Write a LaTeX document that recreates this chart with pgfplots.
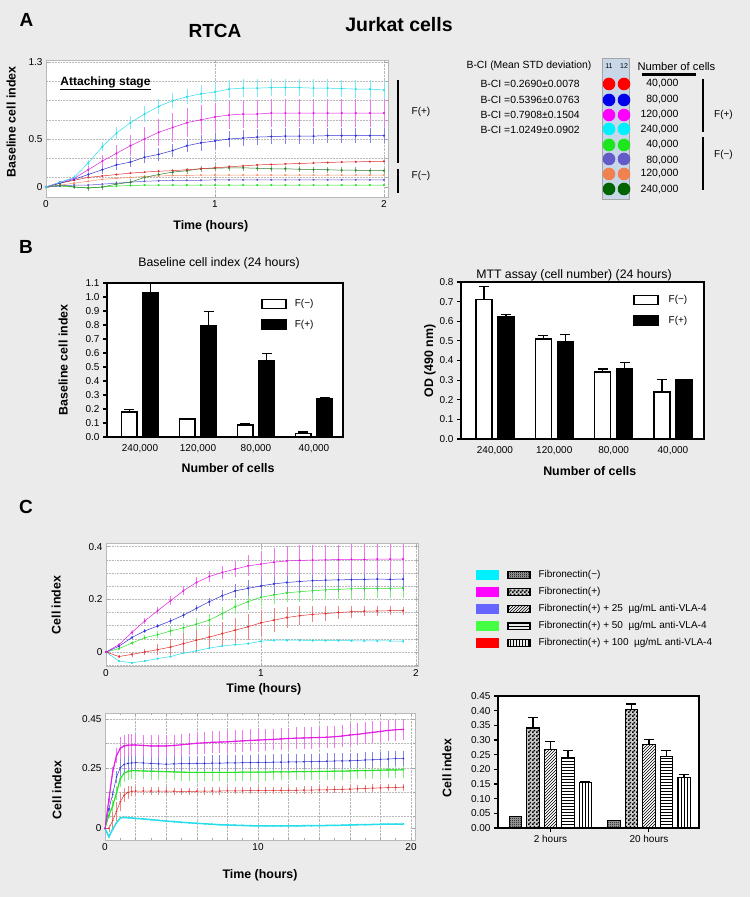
\documentclass[border=0pt]{standalone}
\usepackage{fontspec}
\setmainfont{Liberation Sans}
\usepackage{pgfplots}
\pgfplotsset{compat=1.18}
\usepackage{pgfplotstable}
\usetikzlibrary{patterns}

\pgfdeclarepatternformonly{finecheck}{\pgfqpoint{0pt}{0pt}}{\pgfqpoint{4pt}{4pt}}{\pgfqpoint{4pt}{4pt}}{
  \pgfpathrectangle{\pgfqpoint{0pt}{0pt}}{\pgfqpoint{2pt}{2pt}}
  \pgfpathrectangle{\pgfqpoint{2pt}{2pt}}{\pgfqpoint{2pt}{2pt}}
  \pgfusepath{fill}}
\pgfdeclarepatternformonly{tinycheck}{\pgfqpoint{0pt}{0pt}}{\pgfqpoint{2pt}{2pt}}{\pgfqpoint{2pt}{2pt}}{
  \pgfpathrectangle{\pgfqpoint{0pt}{0pt}}{\pgfqpoint{1pt}{1pt}}
  \pgfpathrectangle{\pgfqpoint{1pt}{1pt}}{\pgfqpoint{1pt}{1pt}}
  \pgfusepath{fill}}

\definecolor{bg}{RGB}{235,235,235}
\definecolor{cyL}{RGB}{40,222,235}
\definecolor{mgL}{RGB}{228,30,228}
\definecolor{blL}{RGB}{50,50,215}
\definecolor{rdL}{RGB}{225,50,50}
\definecolor{dgL}{RGB}{45,130,45}
\definecolor{orL}{RGB}{245,150,110}
\definecolor{sbL}{RGB}{100,90,210}
\definecolor{grL}{RGB}{40,225,40}
\definecolor{pCy}{RGB}{0,240,255}
\definecolor{pMg}{RGB}{255,0,255}
\definecolor{pBl}{RGB}{0,0,235}
\definecolor{pRd}{RGB}{255,0,0}
\definecolor{pGr}{RGB}{30,230,30}
\definecolor{pSb}{RGB}{100,90,200}
\definecolor{pOr}{RGB}{240,130,80}
\definecolor{pDg}{RGB}{0,100,0}
\definecolor{lgBl}{RGB}{102,102,255}
\definecolor{lgGr}{RGB}{68,255,68}
\definecolor{plate}{RGB}{200,215,232}

\newcommand{\ften}{\fontsize{10}{12}\selectfont}
\newcommand{\flab}{\fontsize{12.4}{14}\selectfont}

\pgfplotstableread{
t cy cye mg mge bl ble rd dg dge or sb gr
0 0 0 0 0 0 0 0 0 0 0 0 0
0.0833 0.05 0.01 0.05 0.01 0.04 0.01 0.04 0.02 0.01 0.02 0.01 0.01
0.1667 0.10 0.02 0.09 0.02 0.08 0.02 0.07 0.00 0.02 0.04 0.02 0.00
0.25 0.25 0.03 0.18 0.04 0.13 0.03 0.10 -0.01 0.03 0.06 0.02 -0.01
0.3333 0.42 0.05 0.27 0.06 0.18 0.04 0.115 0.00 0.03 0.08 0.03 0.00
0.4167 0.56 0.06 0.35 0.09 0.23 0.05 0.13 0.03 0.03 0.09 0.04 0.01
0.5 0.67 0.07 0.43 0.11 0.26 0.05 0.145 0.05 0.03 0.10 0.05 0.015
0.5833 0.76 0.08 0.50 0.13 0.31 0.06 0.155 0.10 0.03 0.11 0.06 0.02
0.6667 0.84 0.08 0.57 0.14 0.34 0.07 0.165 0.13 0.03 0.115 0.065 0.02
0.75 0.90 0.08 0.62 0.15 0.38 0.07 0.17 0.155 0.03 0.12 0.07 0.02
0.8333 0.94 0.08 0.67 0.15 0.43 0.07 0.18 0.17 0.03 0.12 0.07 0.02
0.9167 0.97 0.09 0.70 0.15 0.46 0.08 0.19 0.19 0.03 0.125 0.07 0.02
1 0.99 0.09 0.73 0.15 0.48 0.08 0.20 0.195 0.03 0.125 0.075 0.02
1.0833 1.02 0.09 0.75 0.15 0.50 0.08 0.21 0.20 0.03 0.125 0.075 0.02
1.1667 1.03 0.09 0.76 0.15 0.51 0.08 0.22 0.20 0.03 0.125 0.075 0.02
1.25 1.03 0.09 0.76 0.15 0.52 0.08 0.23 0.195 0.03 0.125 0.075 0.02
1.3333 1.035 0.09 0.77 0.15 0.525 0.08 0.235 0.19 0.03 0.125 0.075 0.02
1.4167 1.035 0.09 0.77 0.15 0.53 0.08 0.24 0.19 0.03 0.125 0.075 0.02
1.5 1.035 0.09 0.77 0.15 0.53 0.08 0.245 0.185 0.03 0.125 0.075 0.02
1.5833 1.03 0.09 0.77 0.15 0.53 0.08 0.25 0.18 0.03 0.125 0.075 0.02
1.6667 1.03 0.09 0.77 0.15 0.535 0.08 0.255 0.18 0.03 0.125 0.075 0.02
1.75 1.025 0.09 0.77 0.15 0.535 0.08 0.26 0.175 0.03 0.125 0.075 0.02
1.8333 1.02 0.09 0.77 0.15 0.535 0.08 0.262 0.175 0.03 0.125 0.075 0.02
1.9167 1.02 0.09 0.77 0.15 0.535 0.08 0.265 0.17 0.03 0.125 0.075 0.02
2 1.01 0.09 0.77 0.15 0.535 0.08 0.268 0.17 0.03 0.125 0.075 0.02
}\dataA

\pgfplotstableread{
t m me b be g ge r re c ce
0 0 0 0 0 0 0 0 0 0 0
0.0833 0.028 0.006 0.022 0.005 0.013 0.005 -0.017 0.004 -0.034 0.003
0.1667 0.074 0.008 0.055 0.006 0.034 0.008 -0.009 0.008 -0.041 0.004
0.25 0.118 0.012 0.080 0.008 0.054 0.010 0.000 0.012 -0.034 0.004
0.3333 0.157 0.014 0.099 0.008 0.066 0.012 0.009 0.020 -0.025 0.004
0.4167 0.195 0.016 0.118 0.010 0.080 0.018 0.019 0.030 -0.017 0.004
0.5 0.233 0.016 0.140 0.010 0.092 0.020 0.032 0.040 -0.004 0.005
0.5833 0.264 0.020 0.166 0.012 0.106 0.022 0.045 0.045 0.004 0.005
0.6667 0.287 0.022 0.191 0.015 0.121 0.025 0.057 0.045 0.015 0.005
0.75 0.302 0.025 0.214 0.020 0.146 0.025 0.070 0.045 0.023 0.005
0.8333 0.315 0.030 0.232 0.025 0.172 0.028 0.083 0.048 0.028 0.005
0.9167 0.327 0.040 0.242 0.030 0.191 0.030 0.096 0.050 0.032 0.005
1 0.334 0.050 0.251 0.037 0.208 0.032 0.111 0.050 0.041 0.005
1.0833 0.341 0.055 0.259 0.040 0.217 0.035 0.121 0.045 0.045 0.005
1.1667 0.346 0.057 0.264 0.042 0.225 0.036 0.131 0.040 0.045 0.005
1.25 0.348 0.057 0.268 0.045 0.229 0.038 0.138 0.035 0.045 0.005
1.3333 0.349 0.057 0.271 0.045 0.233 0.038 0.143 0.030 0.044 0.005
1.4167 0.350 0.057 0.273 0.045 0.236 0.038 0.146 0.028 0.044 0.005
1.5 0.351 0.057 0.274 0.045 0.238 0.038 0.150 0.025 0.043 0.005
1.5833 0.352 0.057 0.275 0.045 0.240 0.038 0.153 0.022 0.043 0.005
1.6667 0.352 0.057 0.276 0.045 0.241 0.038 0.155 0.020 0.042 0.005
1.75 0.353 0.057 0.277 0.045 0.242 0.038 0.156 0.018 0.042 0.005
1.8333 0.353 0.057 0.276 0.045 0.242 0.038 0.157 0.016 0.042 0.005
1.9167 0.353 0.057 0.277 0.045 0.243 0.038 0.157 0.015 0.041 0.005
}\dataCt

\pgfplotstableread{
t m me b be g ge r re c ce
0 0 0 0 0 0 0 0 0 0 0
0.25 0.118 0.015 0.080 0.010 0.054 0.012 0.000 0.015 -0.034 0.003
0.5 0.233 0.020 0.140 0.015 0.092 0.025 0.032 0.035 -0.004 0.003
0.75 0.300 0.030 0.212 0.025 0.146 0.030 0.070 0.040 0.023 0.003
1 0.330 0.045 0.250 0.035 0.205 0.035 0.110 0.040 0.043 0.003
1.25 0.340 0.045 0.264 0.032 0.228 0.035 0.137 0.030 0.045 0.003
1.5 0.343 0.045 0.268 0.032 0.235 0.035 0.148 0.025 0.044 0.003
1.75 0.344 0.045 0.270 0.032 0.238 0.035 0.153 0.020 0.043 0.003
2 0.344 0.045 0.271 0.032 0.238 0.035 0.154 0.016 0.041 0.003
2.5 0.342 0.045 0.270 0.032 0.237 0.035 0.154 0.015 0.039 0.003
3 0.340 0.045 0.268 0.032 0.236 0.035 0.154 0.015 0.036 0.003
3.5 0.340 0.045 0.266 0.032 0.235 0.035 0.154 0.015 0.033 0.003
4 0.340 0.045 0.265 0.032 0.234 0.035 0.154 0.015 0.030 0.003
4.5 0.342 0.045 0.266 0.032 0.233 0.035 0.153 0.015 0.028 0.003
5 0.345 0.045 0.267 0.032 0.232 0.035 0.153 0.015 0.025 0.003
5.5 0.348 0.045 0.267 0.032 0.231 0.035 0.153 0.015 0.023 0.003
6 0.351 0.045 0.268 0.032 0.231 0.035 0.153 0.015 0.021 0.003
6.5 0.353 0.045 0.268 0.032 0.231 0.035 0.154 0.015 0.019 0.003
7 0.355 0.045 0.269 0.032 0.231 0.035 0.154 0.015 0.017 0.003
7.5 0.356 0.045 0.269 0.032 0.231 0.035 0.154 0.015 0.015 0.003
8 0.357 0.045 0.270 0.032 0.231 0.035 0.155 0.015 0.014 0.003
8.5 0.359 0.045 0.270 0.032 0.231 0.035 0.155 0.015 0.013 0.003
9 0.361 0.045 0.271 0.032 0.232 0.035 0.155 0.015 0.012 0.003
9.5 0.363 0.045 0.271 0.032 0.232 0.035 0.156 0.015 0.011 0.003
10 0.364 0.045 0.272 0.032 0.232 0.035 0.156 0.015 0.010 0.003
10.5 0.366 0.045 0.272 0.032 0.232 0.035 0.156 0.015 0.010 0.003
11 0.367 0.045 0.273 0.032 0.233 0.035 0.156 0.015 0.010 0.003
11.5 0.369 0.045 0.273 0.032 0.233 0.035 0.157 0.015 0.010 0.003
12 0.371 0.045 0.274 0.032 0.233 0.035 0.157 0.015 0.010 0.003
12.5 0.372 0.045 0.274 0.032 0.234 0.035 0.157 0.015 0.010 0.003
13 0.373 0.045 0.275 0.032 0.234 0.035 0.158 0.015 0.011 0.003
13.5 0.374 0.045 0.275 0.032 0.234 0.035 0.158 0.015 0.011 0.003
14 0.375 0.045 0.276 0.032 0.235 0.035 0.159 0.015 0.011 0.003
14.5 0.376 0.045 0.277 0.032 0.235 0.035 0.159 0.015 0.012 0.003
15 0.378 0.045 0.278 0.032 0.236 0.035 0.160 0.015 0.012 0.003
15.5 0.381 0.045 0.278 0.032 0.236 0.035 0.161 0.015 0.013 0.003
16 0.385 0.045 0.279 0.032 0.237 0.035 0.162 0.015 0.014 0.003
16.5 0.388 0.045 0.280 0.032 0.238 0.035 0.163 0.015 0.015 0.003
17 0.392 0.045 0.282 0.032 0.238 0.035 0.165 0.015 0.015 0.003
17.5 0.396 0.045 0.283 0.032 0.239 0.035 0.166 0.015 0.016 0.003
18 0.400 0.045 0.285 0.032 0.240 0.035 0.167 0.015 0.017 0.003
18.5 0.404 0.045 0.286 0.032 0.241 0.035 0.168 0.015 0.017 0.003
19 0.407 0.045 0.288 0.032 0.241 0.035 0.169 0.015 0.018 0.003
19.5 0.408 0.045 0.288 0.032 0.242 0.035 0.170 0.015 0.018 0.003
}\dataCb

\pgfplotsset{
  every axis title shift=0pt,
  rtca/.style={scale only axis, anchor=south west,
    axis background/.style={fill=white},
    axis line style={gray!55, line width=0.6pt},
    tick style={gray!70, line width=0.5pt}, tick align=inside,
    major tick length=3pt, minor tick length=2pt,
    grid style={densely dotted, gray!55, line width=0.5pt},
    minor grid style={densely dotted, gray!55, line width=0.5pt},
    ticklabel style={font=\ften},
    label style={font=\bfseries\flab},
    /pgf/number format/assume math mode=true,
    clip=true},
  rl/.style={#1, mark=*, mark size=0.8pt, line width=0.5pt,
    error bars/y dir=both, error bars/y explicit, error bars/error mark=none,
    error bars/error bar style={#1!60, line width=0.6pt}},
  barax/.style={scale only axis, anchor=south west,
    axis background/.style={fill=white},
    axis line style={black, line width=1.8pt},
    ytick style={black, line width=1.2pt}, tick align=outside,
    ytick pos=left, xtick pos=bottom,
    major tick length=4pt,
    ticklabel style={font=\ften},
    label style={font=\bfseries\flab},
    title style={font=\fontsize{12.3}{14}\selectfont},
    /pgf/number format/assume math mode=true,
    ymin=0, clip=false},
  ebar/.style={error bars/y dir=plus, error bars/y explicit,
    error bars/error bar style={black, line width=1.4pt},
    error bars/error mark options={rotate=90, black, mark size=5pt, line width=1.4pt}}
}

\begin{document}
\begin{tikzpicture}
\fill[bg] (0pt,0pt) rectangle (750pt,897pt);
\useasboundingbox (0pt,0pt) rectangle (750pt,897pt);

% ---------------- Panel A ----------------
\node[font=\bfseries\fontsize{19}{22}\selectfont] at (26.5pt,877pt) {A};
\node[font=\bfseries\fontsize{19}{22}\selectfont] at (215pt,866pt) {RTCA};
\node[font=\bfseries\fontsize{19.5}{22}\selectfont] at (399pt,872pt) {Jurkat cells};

\begin{axis}[rtca, at={(46pt,700pt)}, width=342pt, height=137pt,
  xmin=0, xmax=2.024, ymin=-0.104, ymax=1.323,
  xtick={0,1,2}, ytick={0,0.5,1.3},
  minor ytick={0.1,0.3,0.5,0.7,0.9,1.1,1.3},
  xmajorgrids, yminorgrids,
  xlabel={Time (hours)}, ylabel={Baseline cell index},
  xlabel style={at={(axis description cs:0.482,-0.212)}, anchor=center},
  ylabel style={at={(axis description cs:-0.102,0.547)}, anchor=center}]
\addplot[rl=grL] table[x=t,y=gr]{\dataA};
\addplot[rl=sbL] table[x=t,y=sb]{\dataA};
\addplot[rl=orL] table[x=t,y=or]{\dataA};
\addplot[rl=dgL] table[x=t,y=dg,y error=dge]{\dataA};
\addplot[rl=rdL] table[x=t,y=rd]{\dataA};
\addplot[rl=blL] table[x=t,y=bl,y error=ble]{\dataA};
\addplot[rl=mgL] table[x=t,y=mg,y error=mge]{\dataA};
\addplot[rl=cyL] table[x=t,y=cy,y error=cye]{\dataA};
\end{axis}
\node[font=\bfseries\fontsize{12}{14}\selectfont] at (105.5pt,814pt) {\underline{Attaching stage}};

\draw[line width=1.8pt] (398pt,817pt) -- (398pt,734pt);
\draw[line width=1.8pt] (398pt,728pt) -- (398pt,704pt);
\node[font=\ften] at (421pt,785pt) {F(+)};
\node[font=\ften] at (421pt,721pt) {F(−)};

% legend block of panel A
\node[font=\fontsize{10.4}{12}\selectfont] at (529pt,831pt) {B-CI (Mean STD deviation)};
\node[font=\fontsize{10.4}{12}\selectfont, anchor=west] at (477pt,813pt) {B-CI =0.2690±0.0078};
\node[font=\fontsize{10.4}{12}\selectfont, anchor=west] at (477pt,797pt) {B-CI =0.5396±0.0763};
\node[font=\fontsize{10.4}{12}\selectfont, anchor=west] at (477pt,782pt) {B-CI =0.7908±0.1504};
\node[font=\fontsize{10.4}{12}\selectfont, anchor=west] at (477pt,767pt) {B-CI =1.0249±0.0902};
\filldraw[fill=plate, draw=gray!70, line width=0.6pt] (602pt,839pt) rectangle (629pt,698pt);
\node[font=\fontsize{7}{8}\selectfont] at (609pt,831pt) {11};
\node[font=\fontsize{7}{8}\selectfont] at (624pt,831pt) {12};
\foreach \yy/\cc in {813/pRd,797/pBl,782/pMg,768/pCy,752/pGr,738/pSb,723/pOr,708/pDg}{
  \fill[\cc] (609pt,\yy pt) circle (6.3pt);
  \fill[\cc] (624pt,\yy pt) circle (6.3pt);
}
\node[font=\fontsize{11.2}{13}\selectfont, anchor=west] at (634pt,830pt) {Number of cells};
\draw[line width=3pt] (642pt,822pt) -- (696pt,822pt);
\foreach \yy/\tt in {813/{40,000},797/{80,000},782/{120,000},767/{240,000},752/{40,000},736/{80,000},723/{120,000},707/{240,000}}{
  \node[font=\fontsize{10.5}{12}\selectfont, anchor=east] at (682pt,\yy pt) {\tt};
}
\draw[line width=1.5pt] (703pt,818pt) -- (703pt,765pt);
\draw[line width=1.5pt] (703pt,760pt) -- (703pt,707pt);
\node[font=\ften] at (723.5pt,782pt) {F(+)};
\node[font=\ften] at (723.5pt,742pt) {F(−)};

% ---------------- Panel B ----------------
\node[font=\bfseries\fontsize{19}{22}\selectfont] at (26pt,650pt) {B};

\begin{axis}[barax, at={(107pt,460pt)}, width=236pt, height=154pt,
  xmin=-0.569, xmax=3.5, ymax=1.1,
  ybar=6pt, bar width=15.5pt,
  xtick={0,1,2,3}, xticklabels={{240,000},{120,000},{80,000},{40,000}},
  xtick style={draw=none},
  ytick={0,0.1,0.2,0.3,0.4,0.5,0.6,0.7,0.8,0.9,1.0,1.1},
  yticklabel style={/pgf/number format/.cd, fixed, fixed zerofill, precision=1},
  title={Baseline cell index (24 hours)},
  title style={at={(axis description cs:0.475,1.13)}, anchor=center},
  xlabel={Number of cells}, ylabel={Baseline cell index},
  xlabel style={at={(axis description cs:0.513,-0.2)}, anchor=center},
  ylabel style={at={(axis description cs:-0.186,0.5)}, anchor=center},
  legend style={draw=none, fill=none, font=\ften,
    at={(axis description cs:0.64,0.92)}, anchor=north west, row sep=8pt,
    /tikz/every odd column/.append style={column sep=6pt}},
  legend image code/.code={\draw[#1, line width=1.6pt] (0pt,-4.5pt) rectangle (24pt,4.5pt);}]
\addplot[fill=white, draw=black, line width=1.6pt, ebar] coordinates
  {(0,0.179) +- (0,0.019) (1,0.130) +- (0,0.004) (2,0.084) +- (0,0.011) (3,0.024) +- (0,0.012)};
\addplot[fill=black, draw=black, line width=1.6pt, ebar] coordinates
  {(0,1.028) +- (0,0.067) (1,0.794) +- (0,0.103) (2,0.543) +- (0,0.055) (3,0.275) +- (0,0.003)};
\legend{F(−),F(+)}
\end{axis}

\begin{axis}[barax, at={(461pt,458pt)}, width=243pt, height=157pt,
  xmin=-0.573, xmax=3.524, ymax=0.8,
  ybar=6pt, bar width=16pt,
  xtick={0,1,2,3}, xticklabels={{240,000},{120,000},{80,000},{40,000}},
  xtick style={draw=none},
  ytick={0,0.1,0.2,0.3,0.4,0.5,0.6,0.7,0.8},
  yticklabel style={/pgf/number format/.cd, fixed, fixed zerofill, precision=1},
  title={MTT assay (cell number) (24 hours)},
  title style={at={(axis description cs:0.465,1.045)}, anchor=center},
  xlabel={Number of cells}, ylabel={OD (490 nm)},
  xlabel style={at={(axis description cs:0.53,-0.204)}, anchor=center},
  ylabel style={at={(axis description cs:-0.128,0.497)}, anchor=center},
  legend style={draw=none, fill=none, font=\ften,
    at={(axis description cs:0.695,0.94)}, anchor=north west, row sep=8pt,
    /tikz/every odd column/.append style={column sep=8pt}},
  legend image code/.code={\draw[#1, line width=1.6pt] (0pt,-4.5pt) rectangle (24pt,4.5pt);}]
\addplot[fill=white, draw=black, line width=1.6pt, ebar] coordinates
  {(0,0.710) +- (0,0.068) (1,0.511) +- (0,0.017) (2,0.341) +- (0,0.016) (3,0.241) +- (0,0.061)};
\addplot[fill=black, draw=black, line width=1.6pt, ebar] coordinates
  {(0,0.625) +- (0,0.008) (1,0.494) +- (0,0.037) (2,0.358) +- (0,0.033) (3,0.302) +- (0,0.0)};
\legend{F(−),F(+)}
\end{axis}

% ---------------- Panel C ----------------
\node[font=\bfseries\fontsize{19}{22}\selectfont] at (26pt,390pt) {C};

\begin{axis}[rtca, at={(106pt,231pt)}, width=312pt, height=123pt,
  xmin=0, xmax=2.013, ymin=-0.053, ymax=0.414,
  xtick={0,1,2}, ytick={0,0.2,0.4},
  minor ytick={-0.05,0,0.05,0.1,0.15,0.2,0.25,0.3,0.35,0.4},
  xmajorgrids, yminorgrids,
  xlabel={Time (hours)}, ylabel={Cell index},
  xlabel style={at={(axis description cs:0.506,-0.187)}, anchor=center},
  ylabel style={at={(axis description cs:-0.16,0.496)}, anchor=center}]
\addplot[rl=cyL] table[x=t,y=c,y error=ce]{\dataCt};
\addplot[rl=rdL] table[x=t,y=r,y error=re]{\dataCt};
\addplot[rl=grL] table[x=t,y=g,y error=ge]{\dataCt};
\addplot[rl=blL] table[x=t,y=b,y error=be]{\dataCt};
\addplot[rl=mgL] table[x=t,y=m,y error=me]{\dataCt};
\end{axis}

\begin{axis}[rtca, at={(105pt,57pt)}, width=310pt, height=127pt,
  xmin=0, xmax=20.26, ymin=-0.048, ymax=0.476,
  xtick={0,2,4,6,8,10,12,14,16,18,20},
  xticklabels={0,,,,,10,,,,,20},
  minor x tick num=1,
  ytick={0,0.25,0.45},
  minor ytick={0.05,0.15,0.25,0.35,0.45},
  xmajorgrids, yminorgrids,
  xlabel={Time (hours)}, ylabel={Cell index},
  xlabel style={at={(axis description cs:0.5,-0.276)}, anchor=center},
  ylabel style={at={(axis description cs:-0.155,0.394)}, anchor=center}]
\addplot[rl=cyL, mark size=0.6pt] table[x=t,y=c,y error=ce]{\dataCb};
\addplot[rl=rdL, mark size=0.6pt] table[x=t,y=r,y error=re]{\dataCb};
\addplot[rl=grL, mark size=0.6pt] table[x=t,y=g,y error=ge]{\dataCb};
\addplot[rl=blL, mark size=0.6pt] table[x=t,y=b,y error=be]{\dataCb};
\addplot[rl=mgL, mark size=0.6pt] table[x=t,y=m,y error=me]{\dataCb};
\addplot[cyL, line width=1.5pt] table[x=t,y=c]{\dataCb};
\addplot[grL, line width=1.1pt] table[x=t,y=g]{\dataCb};
\addplot[mgL, line width=1.1pt] table[x=t,y=m]{\dataCb};
\end{axis}

% legend of panel C
\foreach \yy/\cc in {322/pCy,305/pMg,288/lgBl,271/lgGr,254/pRd}{
  \fill[\cc] (476pt,\yy pt-5pt) rectangle (499pt,\yy pt+5pt);
}
\fill[gray!70] (508pt,318.5pt) rectangle (530pt,325.5pt);
\fill[pattern=tinycheck] (508pt,318.5pt) rectangle (530pt,325.5pt);
\draw[line width=1.3pt] (508pt,318.5pt) rectangle (530pt,325.5pt);
\fill[gray!40] (508pt,301.5pt) rectangle (530pt,308.5pt);
\draw[pattern=finecheck, line width=1.3pt] (508pt,301.5pt) rectangle (530pt,308.5pt);
\draw[pattern=north east lines, line width=1.3pt] (508pt,284.5pt) rectangle (530pt,291.5pt);
\draw[pattern=horizontal lines, line width=1.3pt] (508pt,267.5pt) rectangle (530pt,274.5pt);
\draw[pattern=vertical lines, line width=1.3pt] (508pt,250.5pt) rectangle (530pt,257.5pt);
\node[font=\ften, anchor=west] at (535pt,322pt) {Fibronectin(−)};
\node[font=\ften, anchor=west] at (535pt,305pt) {Fibronectin(+)};
\node[font=\ften, anchor=west] at (535pt,288pt) {Fibronectin(+) + 25 \ µg/mL anti-VLA-4};
\node[font=\ften, anchor=west] at (535pt,271pt) {Fibronectin(+) + 50 \ µg/mL anti-VLA-4};
\node[font=\ften, anchor=west] at (535pt,254pt) {Fibronectin(+) + 100 \ µg/mL anti-VLA-4};

\begin{axis}[barax, at={(498pt,69pt)}, width=201pt, height=132pt,
  xmin=-0.533, xmax=1.508, ymax=0.45,
  ybar=5pt, bar width=12.5pt,
  xtick={0,1}, xticklabels={2 hours,20 hours},
  xtick style={black, line width=1pt},
  ytick={0,0.05,0.1,0.15,0.2,0.25,0.3,0.35,0.4,0.45},
  yticklabel style={/pgf/number format/.cd, fixed, fixed zerofill, precision=2},
  ylabel={Cell index},
  ylabel style={at={(axis description cs:-0.254,0.455)}, anchor=center}]
\addplot[fill=gray!70, draw=black, line width=1.4pt, postaction={pattern=tinycheck}, ebar] coordinates
  {(0,0.040) +- (0,0.0) (1,0.026) +- (0,0.0)};
\addplot[fill=gray!40, draw=black, line width=1.4pt, postaction={pattern=finecheck}, ebar] coordinates
  {(0,0.341) +- (0,0.035) (1,0.403) +- (0,0.020)};
\addplot[pattern=north east lines, draw=black, line width=1.4pt, ebar] coordinates
  {(0,0.268) +- (0,0.027) (1,0.285) +- (0,0.017)};
\addplot[pattern=horizontal lines, draw=black, line width=1.4pt, ebar] coordinates
  {(0,0.239) +- (0,0.025) (1,0.243) +- (0,0.021)};
\addplot[pattern=vertical lines, draw=black, line width=1.4pt, ebar] coordinates
  {(0,0.155) +- (0,0.004) (1,0.172) +- (0,0.011)};
\end{axis}
\end{tikzpicture}
\end{document}
